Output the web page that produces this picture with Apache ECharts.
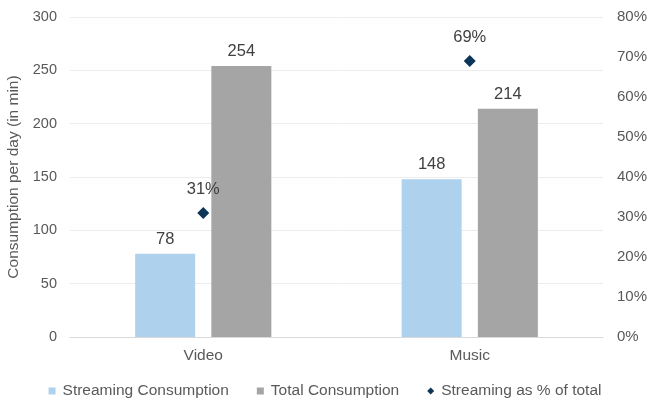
<!DOCTYPE html>
<html><head><meta charset="utf-8">
<script src="https://cdn.jsdelivr.net/npm/echarts@6/dist/echarts.min.js"></script>
<style>html,body{margin:0;padding:0;background:#fff}#c{width:650px;height:400px}</style>
</head><body><div id="c"></div>
<script>
var categories = ['Video', 'Music'];
var streamingConsumption = [78, 148];
var totalConsumption = [254, 214];
var streamingShare = [0.31, 0.69];
var leftTicks = {min: 0, max: 300, interval: 50};
var rightTicks = {min: 0, max: 0.8, interval: 0.1};

var font = 'Liberation Sans, Arial, sans-serif';
var txt = '#595959';
var chart = echarts.init(document.getElementById('c'));
chart.setOption({
  animation: false,
  textStyle: {fontFamily: font},
  grid: {left: 70, right: 47, top: 17, bottom: 63, containLabel: false, outerBoundsMode: 'none'},
  legend: {
    top: 378, left: 'center', itemWidth: 7, itemHeight: 7, itemGap: 28,
    textStyle: {fontSize: 15.5, color: txt, fontFamily: font, padding: [0, 0, 0, 2]},
    data: [
      {name: 'Streaming Consumption', icon: 'rect'},
      {name: 'Total Consumption', icon: 'rect'},
      {name: 'Streaming as % of total', icon: 'diamond'}
    ]
  },
  xAxis: {
    type: 'category', data: categories,
    axisLine: {lineStyle: {color: '#d9d9d9', width: 1}},
    axisTick: {show: false},
    axisLabel: {fontSize: 15.5, color: txt, margin: 11}
  },
  yAxis: [{
    type: 'value', min: leftTicks.min, max: leftTicks.max, interval: leftTicks.interval,
    name: 'Consumption per day (in min)', nameLocation: 'middle', nameGap: 47,
    nameTextStyle: {fontSize: 15.5, color: txt},
    axisLine: {show: false}, axisTick: {show: false},
    axisLabel: {fontSize: 14.5, color: txt, margin: 13},
    splitLine: {lineStyle: {color: '#ececec'}}
  }, {
    type: 'value', min: rightTicks.min, max: rightTicks.max, interval: rightTicks.interval,
    position: 'right',
    axisLine: {show: false}, axisTick: {show: false},
    axisLabel: {fontSize: 15, color: txt, margin: 14,
      formatter: function (v) { return Math.round(v * 100) + '%'; }},
    splitLine: {show: false}
  }],
  series: [{
    name: 'Streaming Consumption', type: 'bar', data: streamingConsumption,
    barWidth: 60, barGap: '27%',
    itemStyle: {color: '#aed2ee'},
    label: {show: true, position: 'top', distance: 6, fontSize: 16.5, color: '#404040'}
  }, {
    name: 'Total Consumption', type: 'bar', data: totalConsumption,
    barWidth: 60,
    itemStyle: {color: '#a5a5a5'},
    label: {show: true, position: 'top', distance: 6, fontSize: 16.5, color: '#404040'}
  }, {
    name: 'Streaming as % of total', type: 'scatter', yAxisIndex: 1, data: streamingShare,
    symbol: 'diamond', symbolSize: 12,
    itemStyle: {color: '#0c3559', opacity: 1},
    label: {show: true, position: 'top', distance: 9, fontSize: 16.5, color: '#404040',
      formatter: function (p) { return Math.round(p.value * 100) + '%'; }}
  }]
});
</script></body></html>
